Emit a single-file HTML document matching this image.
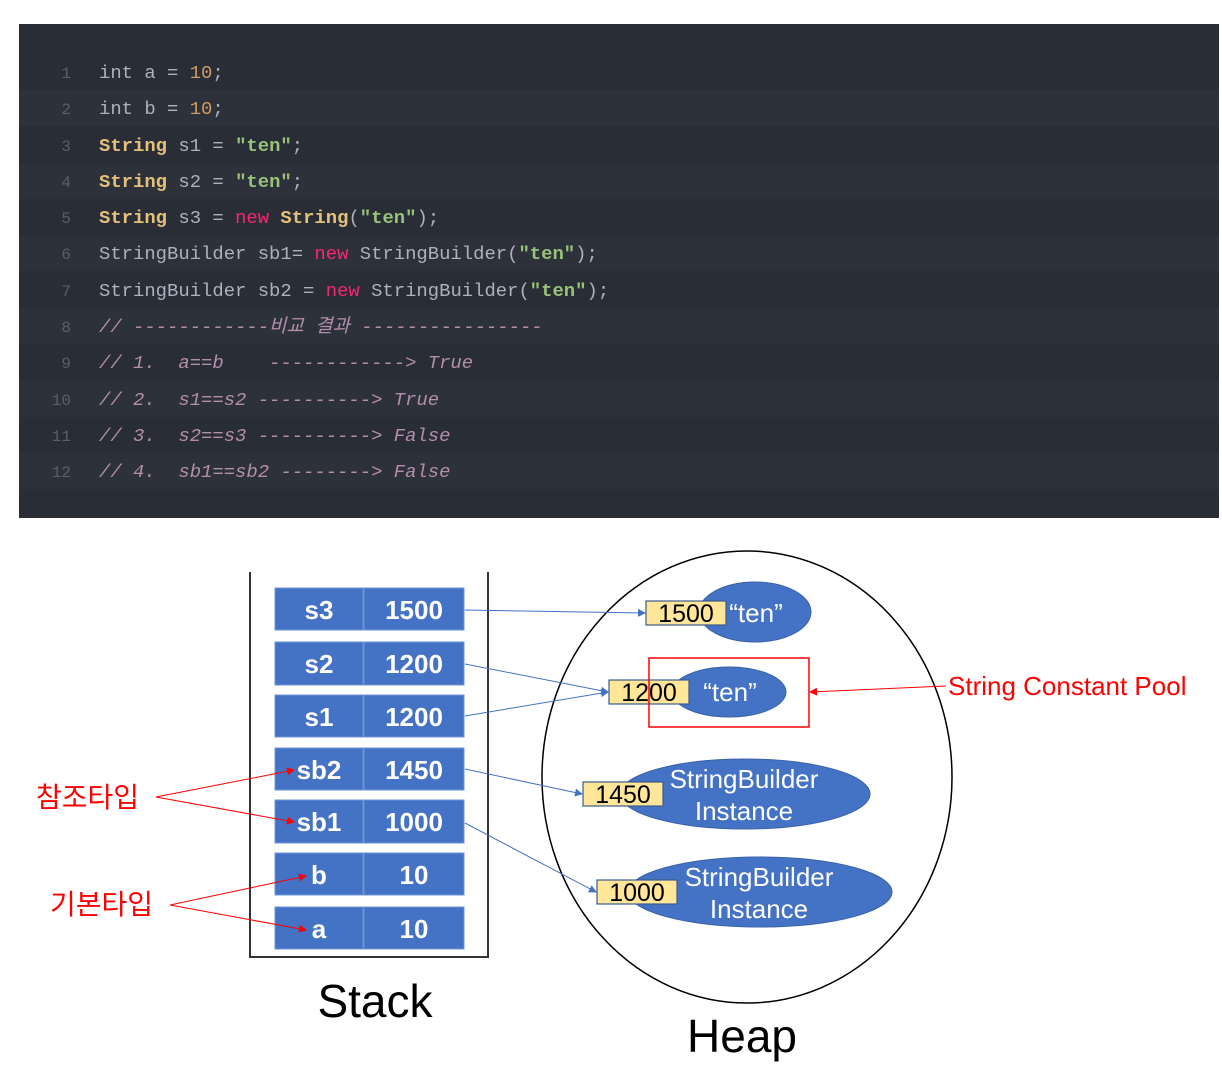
<!DOCTYPE html>
<html><head><meta charset="utf-8"><style>
html,body{margin:0;padding:0;background:#fff;width:1222px;height:1072px;overflow:hidden}
svg{display:block}
.c{font-family:"Liberation Mono","Noto Sans CJK KR",monospace;font-size:18.9px;white-space:pre}
.n{font-family:"Liberation Mono",monospace;font-size:16px;fill:#5a5f69}
.d{font-family:"Liberation Sans","Noto Sans CJK KR",sans-serif}
</style></head><body>
<svg width="1222" height="1072" viewBox="0 0 1222 1072" xmlns="http://www.w3.org/2000/svg">
<defs>
<marker id="ab" markerWidth="8" markerHeight="8" refX="7" refY="4" orient="auto" markerUnits="userSpaceOnUse"><path d="M0,0 L8,4 L0,8z" fill="#4472c4"/></marker>
<marker id="ar" markerWidth="8" markerHeight="8" refX="7" refY="4" orient="auto" markerUnits="userSpaceOnUse"><path d="M0,0 L8,4 L0,8z" fill="#ff0000"/></marker>
</defs>
<rect x="19" y="24" width="1200" height="494" fill="#292d35"/>
<rect x="19" y="90" width="1200" height="36" fill="#2d313a"/>
<rect x="19" y="163" width="1200" height="36" fill="#2d313a"/>
<rect x="19" y="235" width="1200" height="36" fill="#2d313a"/>
<rect x="19" y="308" width="1200" height="36" fill="#2d313a"/>
<rect x="19" y="381" width="1200" height="36" fill="#2d313a"/>
<rect x="19" y="453" width="1200" height="36" fill="#2d313a"/>
<g class="n" text-anchor="end">
<text x="71" y="78">1</text><text x="71" y="114">2</text><text x="71" y="151">3</text><text x="71" y="187">4</text><text x="71" y="223">5</text><text x="71" y="259">6</text><text x="71" y="296">7</text><text x="71" y="332">8</text><text x="71" y="368">9</text><text x="71" y="405">10</text><text x="71" y="441">11</text><text x="71" y="477">12</text>
</g>
<g class="c" fill="#abb2bf">
<text x="99" y="78">int a = <tspan fill="#d19a66">10</tspan>;</text>
<text x="99" y="114">int b = <tspan fill="#d19a66">10</tspan>;</text>
<text x="99" y="151"><tspan fill="#e5c07b" font-weight="bold">String</tspan> s1 = <tspan fill="#98c379" font-weight="bold">"ten"</tspan>;</text>
<text x="99" y="187"><tspan fill="#e5c07b" font-weight="bold">String</tspan> s2 = <tspan fill="#98c379" font-weight="bold">"ten"</tspan>;</text>
<text x="99" y="223"><tspan fill="#e5c07b" font-weight="bold">String</tspan> s3 = <tspan fill="#f92672">new</tspan> <tspan fill="#e5c07b" font-weight="bold">String</tspan>(<tspan fill="#98c379" font-weight="bold">"ten"</tspan>);</text>
<text x="99" y="259">StringBuilder sb1= <tspan fill="#f92672">new</tspan> StringBuilder(<tspan fill="#98c379" font-weight="bold">"ten"</tspan>);</text>
<text x="99" y="296">StringBuilder sb2 = <tspan fill="#f92672">new</tspan> StringBuilder(<tspan fill="#98c379" font-weight="bold">"ten"</tspan>);</text>
<g fill="#b48ead" font-style="italic">
<text x="99" y="332">// ------------비교 결과 ----------------</text>
<text x="99" y="368">//&#160;1.&#160;&#160;a==b&#160;&#160;&#160;&#160;------------&gt;&#160;True</text>
<text x="99" y="405">//&#160;2.&#160;&#160;s1==s2&#160;----------&gt;&#160;True</text>
<text x="99" y="441">//&#160;3.&#160;&#160;s2==s3&#160;----------&gt;&#160;False</text>
<text x="99" y="477">//&#160;4.&#160;&#160;sb1==sb2&#160;--------&gt;&#160;False</text>
</g>
</g>

<!-- Stack -->
<path d="M250,572 V957 H488 V572" fill="none" stroke="#333" stroke-width="2"/>
<g fill="#4472c4" stroke="#6f94d6" stroke-width="1">
<rect x="275" y="588" width="88" height="42"/><rect x="364" y="588" width="100" height="42"/>
<rect x="275" y="642" width="88" height="43"/><rect x="364" y="642" width="100" height="43"/>
<rect x="275" y="695" width="88" height="42"/><rect x="364" y="695" width="100" height="42"/>
<rect x="275" y="748" width="88" height="42"/><rect x="364" y="748" width="100" height="42"/>
<rect x="275" y="800" width="88" height="43"/><rect x="364" y="800" width="100" height="43"/>
<rect x="275" y="853" width="88" height="42"/><rect x="364" y="853" width="100" height="42"/>
<rect x="275" y="907" width="88" height="42"/><rect x="364" y="907" width="100" height="42"/>
</g>
<g class="d" fill="#fff" font-size="26" font-weight="bold" text-anchor="middle">
<text x="319" y="619">s3</text><text x="414" y="619">1500</text>
<text x="319" y="673">s2</text><text x="414" y="673">1200</text>
<text x="319" y="726">s1</text><text x="414" y="726">1200</text>
<text x="319" y="779">sb2</text><text x="414" y="779">1450</text>
<text x="319" y="831">sb1</text><text x="414" y="831">1000</text>
<text x="319" y="884">b</text><text x="414" y="884">10</text>
<text x="319" y="938">a</text><text x="414" y="938">10</text>
</g>
<text class="d" x="375" y="1017" font-size="46" text-anchor="middle" fill="#000">Stack</text>

<!-- Heap -->
<ellipse cx="747" cy="777" rx="205" ry="226" fill="none" stroke="#000" stroke-width="1.5"/>
<text class="d" x="742" y="1052" font-size="46" text-anchor="middle" fill="#000">Heap</text>
<g fill="#4472c4" stroke="#3a62a8" stroke-width="1">
<ellipse cx="755" cy="612" rx="56" ry="30"/>
<ellipse cx="729" cy="692" rx="57" ry="25"/>
<ellipse cx="745" cy="794" rx="125" ry="35"/>
<ellipse cx="760" cy="892" rx="132" ry="35"/>
</g>
<g fill="#ffe699" stroke="#3b5a8a" stroke-width="1.2">
<rect x="646" y="601" width="80" height="24"/>
<rect x="609" y="680" width="80" height="24"/>
<rect x="583" y="782" width="80" height="24"/>
<rect x="597" y="880" width="80" height="24"/>
</g>
<g class="d" font-size="25" fill="#000" text-anchor="middle">
<text x="686" y="622">1500</text><text x="649" y="701">1200</text><text x="623" y="803">1450</text><text x="637" y="901">1000</text>
</g>
<g class="d" font-size="26" fill="#fff" text-anchor="middle">
<text x="756" y="622">“ten”</text>
<text x="730" y="701">“ten”</text>
<text x="744" y="788">StringBuilder</text><text x="744" y="820">Instance</text>
<text x="759" y="886">StringBuilder</text><text x="759" y="918">Instance</text>
</g>
<rect x="649" y="658" width="160" height="69" fill="none" stroke="#ff0000" stroke-width="1.5"/>

<!-- blue connectors -->
<g stroke="#4472c4" stroke-width="1" fill="none" marker-end="url(#ab)">
<line x1="465" y1="610" x2="645" y2="613"/>
<line x1="465" y1="664" x2="608" y2="692"/>
<line x1="465" y1="716" x2="608" y2="692"/>
<line x1="465" y1="769" x2="582" y2="794"/>
<line x1="465" y1="823" x2="596" y2="892"/>
</g>

<!-- red labels -->
<g stroke="#ff0000" stroke-width="1" fill="none" marker-end="url(#ar)">
<line x1="946" y1="686" x2="810" y2="692"/>
<line x1="156" y1="797" x2="294" y2="770"/>
<line x1="156" y1="797" x2="294" y2="822"/>
<line x1="170" y1="905" x2="306" y2="876"/>
<line x1="170" y1="905" x2="306" y2="930"/>
</g>
<g class="d" fill="#ff0000">
<text x="948" y="695" font-size="26">String Constant Pool</text>
<text x="36" y="807" font-size="28">참조타입</text>
<text x="50" y="914" font-size="28">기본타입</text>
</g>
</svg>
</body></html>
